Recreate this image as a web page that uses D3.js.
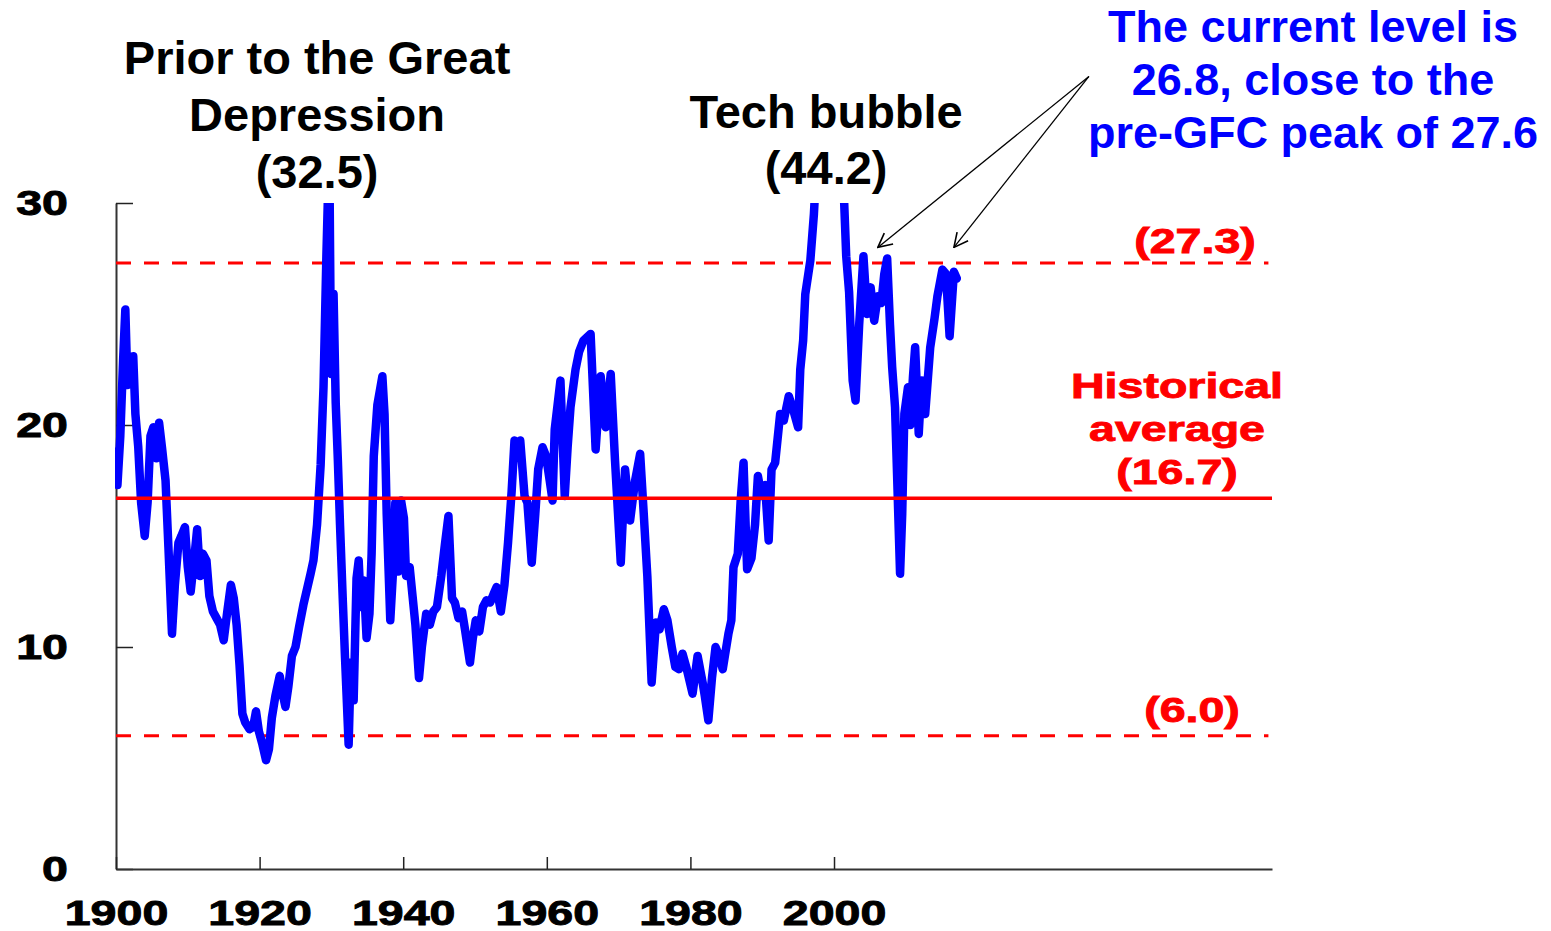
<!DOCTYPE html>
<html>
<head>
<meta charset="utf-8">
<script src="https://cdn.jsdelivr.net/npm/d3@7"></script>
<style>
  body { margin: 0; background: #fff; }
  svg { display: block; }
</style>
</head>
<body>
<svg id="chart" width="1551" height="931"></svg>
<script>
// cyclically adjusted P/E, [decimal year, value]
const cape = [
  [1900.0, 18.8], [1900.2, 17.3], [1900.6, 19.5], [1901.0, 23.0], [1901.3, 25.2], [1901.6, 21.8],
  [1902.0, 22.5], [1902.4, 23.1], [1902.7, 20.5], [1903.1, 19.0], [1903.5, 16.5], [1904.0, 15.0],
  [1904.4, 16.5], [1904.8, 19.5], [1905.2, 19.9], [1905.6, 18.5], [1906.0, 20.1], [1906.4, 19.0],
  [1906.9, 17.5], [1907.3, 14.5], [1907.8, 10.6], [1908.2, 12.8], [1908.7, 14.7], [1909.1, 15.0],
  [1909.6, 15.4], [1910.0, 13.6], [1910.4, 12.5], [1910.9, 14.0], [1911.3, 15.3], [1911.7, 13.2],
  [1912.1, 14.2], [1912.6, 13.9], [1913.0, 12.3], [1913.5, 11.6], [1914.0, 11.3], [1914.5, 11.0],
  [1915.0, 10.3], [1915.5, 11.6], [1916.0, 12.8], [1916.4, 12.2], [1916.8, 11.0], [1917.2, 9.2],
  [1917.6, 7.0], [1918.0, 6.6], [1918.6, 6.3], [1919.1, 6.4], [1919.5, 7.1], [1919.9, 6.2],
  [1920.4, 5.6], [1920.9, 4.9], [1921.3, 5.4], [1921.7, 6.8], [1922.2, 7.8], [1922.8, 8.7],
  [1923.2, 7.9], [1923.6, 7.3], [1924.0, 8.2], [1924.5, 9.6], [1925.0, 10.0], [1925.5, 10.9],
  [1926.1, 11.9], [1926.6, 12.6], [1927.1, 13.3], [1927.5, 13.9], [1928.0, 15.5], [1928.5, 18.2],
  [1928.9, 21.7], [1929.3, 27.6], [1929.7, 32.6], [1929.95, 22.3], [1930.3, 25.9], [1930.6, 21.0],
  [1930.9, 18.4], [1931.2, 15.5], [1931.6, 12.0], [1931.9, 9.5], [1932.4, 5.6], [1932.7, 9.3],
  [1933.1, 7.6], [1933.5, 13.1], [1933.8, 13.9], [1934.1, 11.8], [1934.5, 13.0], [1934.9, 10.4],
  [1935.3, 11.5], [1935.6, 14.2], [1935.9, 18.6], [1936.4, 20.9], [1937.1, 22.2], [1937.4, 20.5],
  [1937.7, 16.0], [1938.2, 11.2], [1938.6, 13.5], [1938.9, 16.5], [1939.3, 13.4], [1939.7, 16.6],
  [1940.1, 15.8], [1940.4, 13.2], [1940.9, 13.6], [1941.3, 12.3], [1941.7, 11.0], [1942.2, 8.6],
  [1942.6, 10.0], [1943.2, 11.5], [1943.7, 11.0], [1944.2, 11.6], [1944.7, 11.8], [1945.3, 13.2],
  [1945.8, 14.6], [1946.3, 15.9], [1946.8, 12.2], [1947.2, 12.0], [1947.7, 11.3], [1948.2, 11.6],
  [1948.6, 10.8], [1949.3, 9.3], [1949.7, 10.4], [1950.1, 11.2], [1950.6, 10.7], [1951.1, 11.8],
  [1951.6, 12.1], [1952.1, 12.0], [1952.6, 12.4], [1953.0, 12.7], [1953.6, 11.6], [1954.1, 12.8],
  [1954.6, 14.7], [1955.1, 17.0], [1955.5, 19.3], [1956.0, 18.8], [1956.3, 19.3], [1956.9, 16.8],
  [1957.3, 16.5], [1957.9, 13.8], [1958.4, 16.0], [1958.8, 18.0], [1959.4, 19.0], [1959.9, 18.6],
  [1960.4, 17.5], [1960.8, 16.6], [1961.1, 19.8], [1961.9, 22.0], [1962.5, 16.8], [1962.9, 19.0],
  [1963.3, 20.8], [1964.0, 22.5], [1964.5, 23.3], [1965.1, 23.8], [1966.1, 24.1], [1966.8, 18.9],
  [1967.5, 22.2], [1968.2, 19.9], [1968.9, 22.3], [1969.5, 18.4], [1970.3, 13.8], [1970.9, 18.0],
  [1971.6, 15.7], [1972.3, 17.5], [1973.0, 18.7], [1973.5, 16.0], [1974.0, 13.2], [1974.6, 8.4],
  [1975.2, 11.1], [1975.7, 10.8], [1976.3, 11.7], [1976.8, 11.2], [1977.4, 10.0], [1977.9, 9.1],
  [1978.4, 9.0], [1978.9, 9.7], [1979.5, 9.0], [1980.3, 7.9], [1981.0, 9.6], [1981.7, 8.4],
  [1982.0, 7.8], [1982.5, 6.7], [1983.0, 8.6], [1983.5, 10.0], [1984.0, 9.6], [1984.5, 9.0],
  [1985.3, 10.6], [1985.7, 11.2], [1986.0, 13.6], [1986.6, 14.2], [1987.0, 16.6], [1987.4, 18.3],
  [1987.9, 13.5], [1988.5, 14.0], [1989.0, 15.5], [1989.4, 17.7], [1989.9, 16.8], [1990.4, 17.3],
  [1990.9, 14.8], [1991.3, 18.0], [1991.8, 18.3], [1992.5, 20.5], [1993.0, 20.2], [1993.7, 21.3],
  [1994.3, 20.7], [1995.0, 19.9], [1995.3, 22.5], [1995.7, 23.8], [1996.0, 25.9], [1996.7, 27.4],
  [1997.2, 29.5], [1997.6, 32.0], [1998.0, 35.5], [1998.6, 38.0], [1998.9, 33.0], [1999.3, 40.5],
  [1999.9, 44.2], [2000.4, 42.5], [2000.9, 37.0], [2001.3, 31.0], [2001.7, 27.6], [2002.1, 26.0],
  [2002.6, 22.0], [2003.0, 21.1], [2003.5, 24.5], [2004.1, 27.6], [2004.6, 25.0], [2005.1, 26.2],
  [2005.6, 24.7], [2006.1, 25.8], [2006.6, 25.5], [2007.0, 26.8], [2007.4, 27.5], [2007.8, 24.5],
  [2008.1, 22.6], [2008.5, 20.8], [2008.9, 16.5], [2009.2, 13.3], [2009.5, 16.0], [2009.8, 20.5],
  [2010.3, 21.7], [2010.6, 20.0], [2011.0, 22.2], [2011.3, 23.5], [2011.8, 19.6], [2012.2, 22.0],
  [2012.7, 20.5], [2013.4, 23.5], [2014.0, 24.8], [2014.4, 25.8], [2015.1, 27.0], [2015.6, 26.8],
  [2016.1, 24.0], [2016.7, 26.9], [2017.1, 26.6]
];

const yTicks = [0, 10, 20, 30];
const xTicks = [1900, 1920, 1940, 1960, 1980, 2000];

const highLevel = 27.3;
const avgLevel = 16.7;
const lowLevel = 6.0;

const peakTitle = ["Prior to the Great", "Depression", "(32.5)"];
const techTitle = ["Tech bubble", "(44.2)"];
const noteText = ["The current level is", "26.8, close to the", "pre-GFC peak of 27.6"];
const avgText = ["Historical", "average", "(16.7)"];

const svg = d3.select("#chart");

const x = d3.scaleLinear().domain([1900, 2061]).range([116, 1272]);
const y = d3.scaleLinear().domain([0, 30]).range([869, 203]);

const stretch = "scale(1.33,1)";
const labelFont = "'Liberation Sans', Arial, sans-serif";

svg.append("defs").append("clipPath")
  .attr("id", "plot-clip")
  .append("rect")
  .attr("x", x(1900) - 1)
  .attr("y", y(30))
  .attr("width", x(2061) - x(1900) + 1)
  .attr("height", y(0) - y(30));

svg.select("defs").append("marker")
  .attr("id", "arrow")
  .attr("viewBox", "0 0 16 16")
  .attr("refX", 15)
  .attr("refY", 8)
  .attr("markerWidth", 16)
  .attr("markerHeight", 16)
  .attr("markerUnits", "userSpaceOnUse")
  .attr("orient", "auto")
  .append("path")
  .attr("d", "M1,1 L15,8 L1,15")
  .attr("fill", "none")
  .attr("stroke", "#000")
  .attr("stroke-width", 1.6);

// axes
const yAxis = svg.append("g")
  .attr("transform", `translate(${x(1900)},0)`)
  .call(d3.axisLeft(y).tickValues(yTicks).tickSizeInner(-17).tickSizeOuter(0).tickFormat(d3.format("d")));

const xAxis = svg.append("g")
  .attr("transform", `translate(0,${y(0)})`)
  .call(d3.axisBottom(x).tickValues(xTicks).tickSizeInner(-12).tickSizeOuter(0).tickFormat(d3.format("d")));

[yAxis, xAxis].forEach(g => {
  g.select(".domain").attr("stroke", "#333").attr("stroke-width", 2);
  g.selectAll(".tick line").attr("stroke", "#222").attr("stroke-width", 1.5);
  g.selectAll(".tick text")
    .attr("font-family", labelFont)
    .attr("font-weight", "bold")
    .attr("font-size", 35)
    .attr("fill", "#000")
    .attr("stroke", "#000")
    .attr("stroke-width", 0.9);
});

yAxis.selectAll(".tick text")
  .attr("x", 0)
  .attr("transform", "translate(-48,0) " + stretch);

xAxis.selectAll(".tick text")
  .attr("y", 0)
  .attr("transform", "translate(0,31) " + stretch);

// reference levels
svg.append("line")
  .attr("x1", x(1900)).attr("x2", x(2060.5))
  .attr("y1", y(highLevel)).attr("y2", y(highLevel))
  .attr("stroke", "#ff0000").attr("stroke-width", 3)
  .attr("stroke-dasharray", "15,13");

svg.append("line")
  .attr("x1", x(1900)).attr("x2", x(2060.5))
  .attr("y1", y(lowLevel)).attr("y2", y(lowLevel))
  .attr("stroke", "#ff0000").attr("stroke-width", 3)
  .attr("stroke-dasharray", "15,13");

// series
const line = d3.line()
  .x(d => x(d[0]))
  .y(d => y(d[1]));

svg.append("path")
  .datum(cape)
  .attr("clip-path", "url(#plot-clip)")
  .attr("d", line)
  .attr("fill", "none")
  .attr("stroke", "#0000ff")
  .attr("stroke-width", 8.5)
  .attr("stroke-linejoin", "round")
  .attr("stroke-linecap", "round");

svg.append("line")
  .attr("x1", x(1900)).attr("x2", x(2061))
  .attr("y1", y(avgLevel)).attr("y2", y(avgLevel))
  .attr("stroke", "#ff0000").attr("stroke-width", 3.5);

// red labels
function redLabel(text, cx, baseline) {
  svg.append("g")
    .attr("transform", `translate(${cx},${baseline}) ${stretch}`)
    .append("text")
    .attr("text-anchor", "middle")
    .attr("font-family", labelFont)
    .attr("font-weight", "bold")
    .attr("font-size", 35)
    .attr("fill", "#ff0000")
    .attr("stroke", "#ff0000")
    .attr("stroke-width", 0.9)
    .text(text);
}

redLabel(`(${highLevel.toFixed(1)})`, 1195, y(highLevel) - 10);
redLabel(`(${lowLevel.toFixed(1)})`, 1192, y(lowLevel) - 14);
avgText.forEach((t, i) => redLabel(t, 1177, 398 + i * 43));

// titles
function titleBlock(lines, cx, top, step, size, color) {
  const t = svg.append("text")
    .attr("text-anchor", "middle")
    .attr("font-family", labelFont)
    .attr("font-weight", "bold")
    .attr("font-size", size)
    .attr("fill", color);
  lines.forEach((s, i) => {
    t.append("tspan").attr("x", cx).attr("y", top + i * step).text(s);
  });
}

titleBlock(peakTitle, x(1928), 74, 57, 47, "#000");
titleBlock(techTitle, x(1998.9), 128, 56, 47, "#000");
titleBlock(noteText, 1313, 42, 53, 45, "#0000ff");

// arrows to current level and pre-GFC peak
const arrowFrom = [2035.5, 35.7];
const arrowTo = [[2006.1, 28.0], [2016.7, 28.0]];
arrowTo.forEach(p => {
  svg.append("line")
    .attr("x1", x(arrowFrom[0])).attr("y1", y(arrowFrom[1]))
    .attr("x2", x(p[0])).attr("y2", y(p[1]))
    .attr("stroke", "#000")
    .attr("stroke-width", 1.3)
    .attr("marker-end", "url(#arrow)");
});
</script>
</body>
</html>
